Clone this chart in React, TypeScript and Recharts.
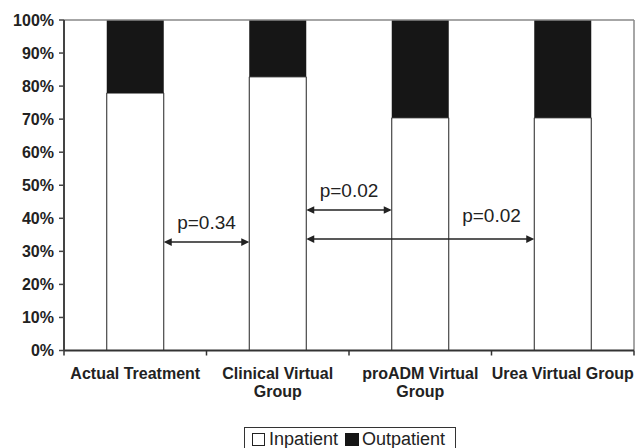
import React from 'react';
import {
  BarChart,
  Bar,
  XAxis,
  YAxis,
  ReferenceLine,
  ReferenceDot,
  Legend,
} from 'recharts';

// ---- data ----
const categories = [
  'Actual Treatment',
  'Clinical Virtual Group',
  'proADM Virtual Group',
  'Urea Virtual Group',
];
const tickLabels = [
  'Actual Treatment',
  'Clinical Virtual\nGroup',
  'proADM Virtual\nGroup',
  'Urea Virtual Group',
];
const slotCenters = [0.5, 1.5, 2.5, 3.5];
const inpatient = [77.9, 82.8, 70.4, 70.4];
const outpatient = [22.1, 17.2, 29.6, 29.6];
const yTicks = [0, 10, 20, 30, 40, 50, 60, 70, 80, 90, 100];

// significance brackets: x in category units (0..4), y in percent
const annotations = [
  { from: 0.7, to: 1.3, y: 32.8, label: 'p=0.34', labelX: 1.0, labelY: 38.7 },
  { from: 1.7, to: 2.3, y: 42.5, label: 'p=0.02', labelX: 2.0, labelY: 48.5 },
  { from: 1.7, to: 3.3, y: 33.7, label: 'p=0.02', labelX: 3.0, labelY: 41.0 },
];

const data = categories.map((name, i) => ({
  name,
  slot: slotCenters[i],
  Inpatient: inpatient[i],
  Outpatient: outpatient[i],
}));

const TEXT = '#222';
const FONT = '"Liberation Sans", Arial, Helvetica, sans-serif';

const XTick = (props: any) => {
  const { x, y, payload, index } = props;
  const half = payload && typeof payload.offset === 'number' && payload.offset > 0 ? payload.offset : 71.25;
  const lines = (tickLabels[index] ?? String(payload.value)).split('\n');
  return (
    <g>
      <line x1={x - half} x2={x - half} y1={y} y2={y + 5} stroke="#333" strokeWidth={1.5} />
      {index === categories.length - 1 && (
        <line x1={x + half} x2={x + half} y1={y} y2={y + 5} stroke="#333" strokeWidth={1.5} />
      )}
      <text x={x} y={y + 28.5} textAnchor="middle" fontSize={16} fontWeight="bold" fill={TEXT} fontFamily={FONT}>
        {lines.map((l: string, i: number) => (
          <tspan key={i} x={x} dy={i === 0 ? 0 : 18}>
            {l}
          </tspan>
        ))}
      </text>
    </g>
  );
};

const ArrowShape = (p: any) => {
  const { x1, y1, x2, y2 } = p;
  const L = 8;
  const H = 3.8;
  return (
    <g>
      <line x1={x1 + 2} y1={y1} x2={x2 - 2} y2={y2} stroke="#222" strokeWidth={1.5} />
      <polygon points={`${x1},${y1} ${x1 + L},${y1 - H} ${x1 + L},${y1 + H}`} fill="#222" />
      <polygon points={`${x2},${y2} ${x2 - L},${y2 - H} ${x2 - L},${y2 + H}`} fill="#222" />
    </g>
  );
};

const LegendContent = () => (
  <div
    style={{
      border: '1px solid #333',
      height: 26,
      boxSizing: 'border-box',
      display: 'flex',
      alignItems: 'center',
      paddingLeft: 7,
      fontFamily: FONT,
      fontSize: 18,
      color: TEXT,
      background: '#fff',
      whiteSpace: 'nowrap',
    }}
  >
    <span style={{ display: 'inline-block', width: 13, height: 13, border: '1px solid #222', boxSizing: 'border-box', background: '#fff', marginRight: 4 }} />
    <span style={{ marginRight: 7 }}>Inpatient</span>
    <span style={{ display: 'inline-block', width: 14, height: 13, background: '#161616', marginRight: 3 }} />
    <span>Outpatient</span>
  </div>
);

export default function App() {
  return (
    <div style={{ position: 'absolute', left: 0, top: 0, width: 636, height: 448, background: '#fff', fontFamily: FONT }}>
      <BarChart
        width={636}
        height={448}
        data={data}
        margin={{ top: 20, right: 2, bottom: 57.5, left: 0 }}
        barCategoryGap="30%"
      >
        <XAxis
          xAxisId="cat"
          dataKey="name"
          type="category"
          height={40}
          axisLine={{ stroke: '#333', strokeWidth: 2 }}
          tickLine={false}
          tickSize={0}
          tickMargin={0}
          interval={0}
          tick={<XTick />}
        />
        <XAxis xAxisId="num" dataKey="slot" type="number" domain={[0, 4]} allowDataOverflow hide />
        <YAxis
          type="number"
          domain={[0, 100]}
          ticks={yTicks}
          interval={0}
          allowDataOverflow
          width={64}
          tickFormatter={(v: number) => `${v}%`}
          axisLine={{ stroke: '#444', strokeWidth: 2 }}
          tickLine={{ stroke: '#444', strokeWidth: 1.5 }}
          tickSize={5}
          tickMargin={5}
          tick={{ fill: TEXT, fontSize: 16, fontWeight: 'bold', fontFamily: FONT }}
        />
        <Bar
          xAxisId="cat"
          dataKey="Inpatient"
          stackId="a"
          fill="#ffffff"
          stroke="#222"
          strokeWidth={1}
          isAnimationActive={false}
        />
        <Bar
          xAxisId="cat"
          dataKey="Outpatient"
          stackId="a"
          fill="#161616"
          isAnimationActive={false}
        />
        <ReferenceLine xAxisId="num" y={100} stroke="#888" strokeWidth={1.5} />
        <ReferenceLine xAxisId="num" x={4} stroke="#888" strokeWidth={1.5} />
        {annotations.map((a, i) => (
          <ReferenceLine
            key={`a${i}`}
            xAxisId="num"
            segment={[
              { x: a.from, y: a.y },
              { x: a.to, y: a.y },
            ]}
            ifOverflow="visible"
            shape={ArrowShape}
          />
        ))}
        {annotations.map((a, i) => (
          <ReferenceDot
            key={`l${i}`}
            xAxisId="num"
            x={a.labelX}
            y={a.labelY}
            r={0}
            fill="none"
            stroke="none"
            ifOverflow="visible"
            label={{ value: a.label, position: 'center', fill: TEXT, fontSize: 19, fontFamily: FONT }}
          />
        ))}
        <Legend
          layout="horizontal"
          verticalAlign="middle"
          align="center"
          wrapperStyle={{ top: 426.5, left: 244, width: 212 }}
          content={<LegendContent />}
        />
      </BarChart>
    </div>
  );
}
